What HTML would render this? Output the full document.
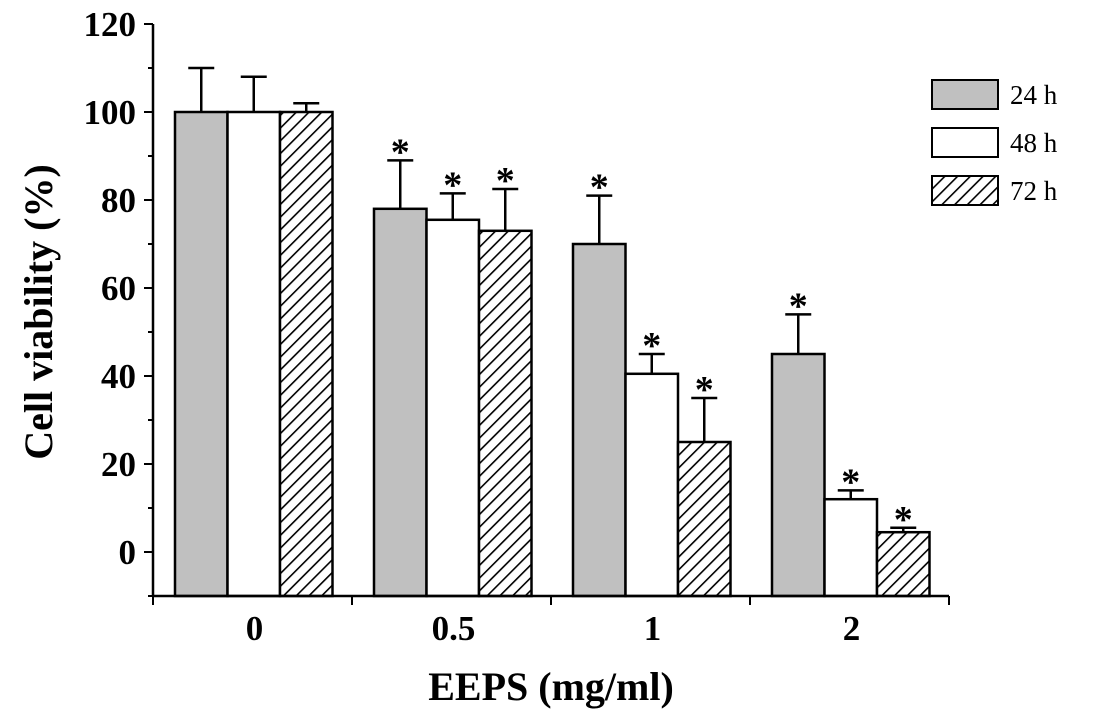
<!DOCTYPE html>
<html><head><meta charset="utf-8"><style>
body{margin:0;background:#fff;}
svg{display:block;font-family:"Liberation Serif",serif;font-weight:bold;}
</style></head><body>
<svg id="chart" width="1094" height="719" xmlns="http://www.w3.org/2000/svg">
<defs>
<pattern id="hatch" patternUnits="userSpaceOnUse" width="9" height="9" patternTransform="rotate(45)">
<rect width="9" height="9" fill="#fff"/><line x1="0" y1="0" x2="0" y2="9" stroke="#000" stroke-width="3.2"/>
</pattern>
</defs>
<g id="plot"></g>
<text transform="translate(52,312) rotate(-90)" text-anchor="middle" font-size="40">Cell viability (%)</text>
<text x="551" y="700" text-anchor="middle" font-size="40">EEPS (mg/ml)</text>
<g>
<rect x="932" y="80" width="66" height="29" fill="#c0c0c0" stroke="#000" stroke-width="2"/>
<text x="1010" y="104" font-size="27" font-weight="normal">24 h</text>
<rect x="932" y="128" width="66" height="29" fill="#fff" stroke="#000" stroke-width="2"/>
<text x="1010" y="152" font-size="27" font-weight="normal">48 h</text>
<rect x="932" y="176" width="66" height="29" fill="url(#hatch)" stroke="#000" stroke-width="2"/>
<text x="1010" y="200" font-size="27" font-weight="normal">72 h</text>
</g>
</svg>
<script>
const categories = ["0","0.5","1","2"];
const series24 = [100,78,70,45];
const series48 = [100,75.5,40.5,12];
const series72 = [100,73,25,4.5];
const err24 = [10,11,11,9];
const err48 = [8,6,4.5,2];
const err72 = [2,9.5,10,1];
const sig24 = [false,true,true,true];
const sig48 = [false,true,true,true];
const sig72 = [false,true,true,true];
const yTicks = [0,20,40,60,80,100,120];

const NS="http://www.w3.org/2000/svg";
const g=document.getElementById('plot');
const y0=552, pxPer=4.4, axisBottom=596, axisLeft=153, groupW=199;
function yScale(v){return y0-v*pxPer;}
function xGroup(i){return axisLeft+i*groupW;}
function mk(tag,attrs){const e=document.createElementNS(NS,tag);for(const k in attrs)e.setAttribute(k,attrs[k]);g.appendChild(e);return e;}

const seriesList=[[series24,err24,sig24,"#c0c0c0","24h"],[series48,err48,sig48,"#fff","48h"],[series72,err72,sig72,"url(#hatch)","72h"]];
const barW=52.5;
categories.forEach((c,i)=>{
  seriesList.forEach((s,j)=>{
    const v=s[0][i], e=s[1][i];
    const x=xGroup(i)+22+j*barW, yt=yScale(v), cx=x+barW/2, ye=yScale(v+e);
    const ln=mk('line',{x1:cx,y1:yt,x2:cx,y2:ye,stroke:'#000','stroke-width':2.5});
    
    
    const cap=mk('line',{x1:cx-13,y1:ye,x2:cx+13,y2:ye,stroke:'#000','stroke-width':2.5});
    
    
    const r=mk('rect',{x:x,y:yt,width:barW,height:axisBottom-yt,fill:s[3],stroke:'#000','stroke-width':2.5});
    
    
    if(s[2][i]){
      const t=mk('text',{x:cx,y:ye+4,'text-anchor':'middle','font-size':38});
      t.textContent='*';
      
      
    }
  });
  const lab=mk('text',{x:xGroup(i)+groupW/2+2,y:640,'text-anchor':'middle','font-size':35});
  lab.textContent=c;
  
  
});
const ya=mk('line',{x1:axisLeft,y1:24,x2:axisLeft,y2:axisBottom,stroke:'#000','stroke-width':2.5});


const xa=mk('line',{x1:axisLeft,y1:axisBottom,x2:xGroup(categories.length),y2:axisBottom,stroke:'#000','stroke-width':2.5});


for(let i=0;i<=categories.length;i++){
  const t=mk('line',{x1:xGroup(i),y1:axisBottom,x2:xGroup(i),y2:axisBottom+9,stroke:'#000','stroke-width':2});
  
  
}
yTicks.forEach(v=>{
  const t=mk('line',{x1:axisLeft-9,y1:yScale(v),x2:axisLeft,y2:yScale(v),stroke:'#000','stroke-width':2});
  
  
  const m=mk('line',{x1:axisLeft-5,y1:yScale(v-10),x2:axisLeft,y2:yScale(v-10),stroke:'#000','stroke-width':2});
  
  
  const l=mk('text',{x:136,y:yScale(v)+12,'text-anchor':'end','font-size':35});
  l.textContent=v;
  
  
});
</script>
</body></html>
